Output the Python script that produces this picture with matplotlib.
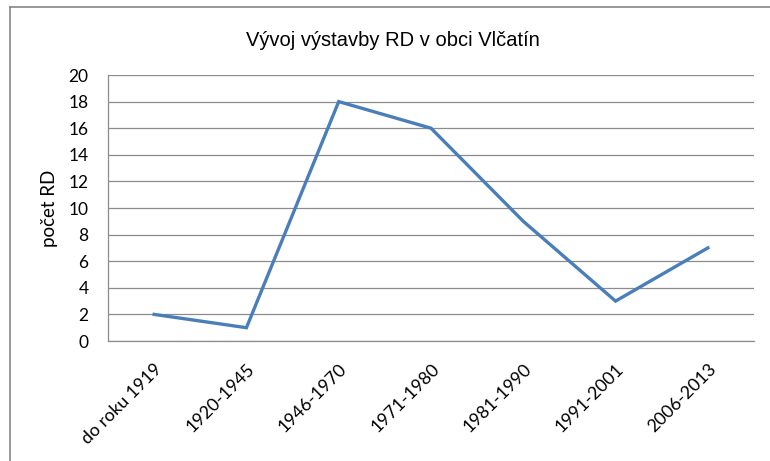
import matplotlib
matplotlib.use("Agg")
import matplotlib.pyplot as plt
from matplotlib.lines import Line2D

categories = ["do roku 1919", "1920-1945", "1946-1970", "1971-1980", "1981-1990", "1991-2001", "2006-2013"]
values = [2, 1, 18, 16, 9, 3, 7]
yticks = list(range(0, 21, 2))
title = "Vývoj výstavby RD v obci Vlčatín"
ylabel = "počet RD"

W, H = 770, 461
fig = plt.figure(figsize=(W / 100, H / 100), dpi=100)
fig.patch.set_facecolor("white")

# outer chart frame (left and top edges visible)
fig.add_artist(Line2D([10 / W, 10 / W], [0, 1 - 7 / H], transform=fig.transFigure, color="#868686", lw=1.2))
fig.add_artist(Line2D([10 / W, 1], [1 - 7 / H, 1 - 7 / H], transform=fig.transFigure, color="#868686", lw=1.2))

left, right, top, bottom = 108, 754, 75, 341
ax = fig.add_axes([left / W, 1 - bottom / H, (right - left) / W, (bottom - top) / H])
x = list(range(len(categories)))
ax.plot(x, values, color="#4A7EBB", lw=2.4, solid_joinstyle="miter", clip_on=False, zorder=3)
ax.set_xlim(-0.5, len(categories) - 0.5)
ax.set_ylim(0, 20)
ax.set_yticks(yticks)
ax.yaxis.grid(True, color="#8c8c8c", lw=0.9)
ax.set_axisbelow(True)
for s in ["top", "right"]:
    ax.spines[s].set_visible(False)
for s in ["left", "bottom"]:
    ax.spines[s].set_color("#8c8c8c")
    ax.spines[s].set_linewidth(0.9)
ax.tick_params(axis="both", length=0, colors="black")
ax.tick_params(axis="y", pad=14, labelsize=12.5)
for lab in ax.get_yticklabels():
    lab.set_fontfamily("Lato")
ax.set_xticks(x)
ax.set_xticklabels(categories, rotation=45, ha="right", rotation_mode="anchor", fontsize=12.8, fontfamily="Lato")
ax.tick_params(axis="x", pad=14)
ax.set_ylabel(ylabel, fontsize=13.5, fontfamily="Lato")
ax.yaxis.set_label_coords((58 - left) / (right - left), 0.5)
fig.text(393 / W, 1 - 40 / H, title, ha="center", va="center", fontsize=14.5, fontfamily="Liberation Sans")

fig.savefig("out.png", dpi=100)
